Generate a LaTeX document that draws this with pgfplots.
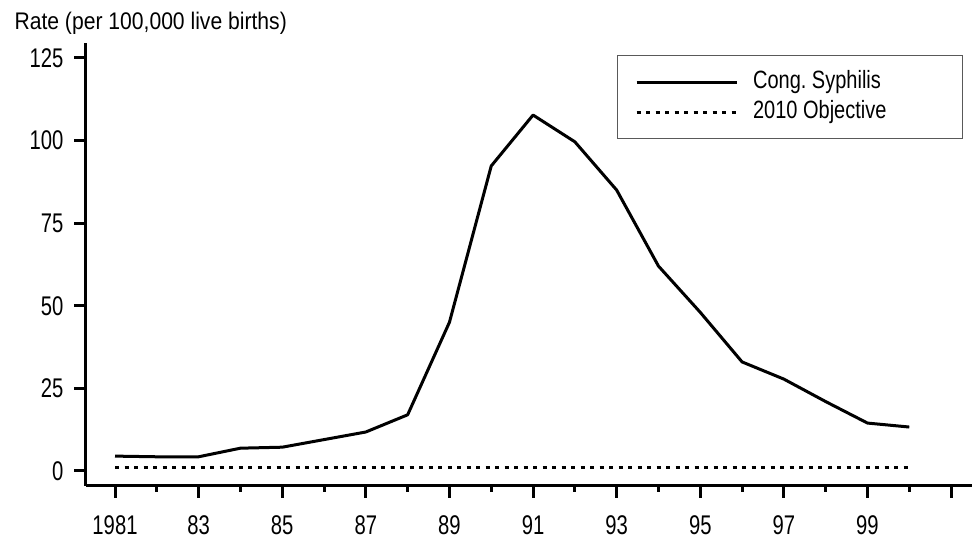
\documentclass[border=0pt]{standalone}
\usepackage{pgfplots}
\pgfplotsset{compat=1.18}
\usepackage{fontspec}
\setmainfont{Liberation Sans}
\newfontfamily\tickfont{Liberation Sans}[FakeStretch=0.75]
\newfontfamily\labfont{Liberation Sans}[FakeStretch=0.88]
\newfontfamily\legfont{Liberation Sans}[FakeStretch=0.8]

\begin{document}
\begin{tikzpicture}
\useasboundingbox (-86pt,-54pt) rectangle (886pt,486pt);
\begin{axis}[
  at={(0pt,0pt)}, anchor=south west,
  width=886pt, height=443pt, scale only axis,
  xmin=1980.306, xmax=2001.5,
  ymin=-4.54, ymax=129.5,
  axis x line=bottom, axis y line=left,
  axis line style={line width=3pt, -},
  tick align=outside,
  major tick length=12pt,
  minor tick length=6pt,
  tick style={line width=3pt, black},
  xtick={1981,1983,...,2001},
  xticklabels={1981,83,85,87,89,91,93,95,97,99,{}},
  minor xtick={1982,1984,...,2000},
  ytick={0,25,...,125},
  /pgf/number format/assume math mode=true,
  ticklabel style={font=\fontsize{27}{30}\tickfont},
  x tick label style={inner sep=1pt, yshift=-16pt},
  y tick label style={xshift=-7pt},
  clip=false,
  legend cell align=left,
  legend image code/.code={\draw[#1] (0pt,0pt) -- (100pt,0pt);},
  legend style={at={(0.5993,0.973)}, anchor=north west,
    draw=black!65, line width=1.2pt,
    minimum width=345pt, minimum height=83pt, inner sep=0pt,
    nodes={minimum width=0pt, minimum height=0pt, inner sep=0pt,
      text height=18pt, text depth=5pt},
    column sep=15pt, row sep=7pt,
    font=\fontsize{25}{30}\legfont, cells={anchor=west}}
]
\addplot[black, line width=3pt, line join=round] coordinates {
  (1981,4.5) (1982,4.3) (1983,4.3) (1984,6.9) (1985,7.2) (1986,9.5)
  (1987,11.8) (1988,17.0) (1989,45.0) (1990,92.3) (1991,107.7) (1992,99.6)
  (1993,85.0) (1994,62.0) (1995,48.0) (1996,33.0) (1997,27.8) (1998,21.0)
  (1999,14.5) (2000,13.3)};
\addlegendentry{\makebox[192pt][l]{Cong.\ Syphilis}}
\addplot[black, line width=3pt, dash pattern=on 4pt off 5.5pt] coordinates {
  (1981,1.0) (2000,1.0)};
\addlegendentry{\makebox[192pt][l]{2010 Objective}}
\node[anchor=base west, font=\fontsize{24}{28}\labfont, xshift=-75pt, yshift=13pt]
  at (rel axis cs:0,1) {Rate (per 100,000 live births)};
\end{axis}
\end{tikzpicture}
\end{document}
